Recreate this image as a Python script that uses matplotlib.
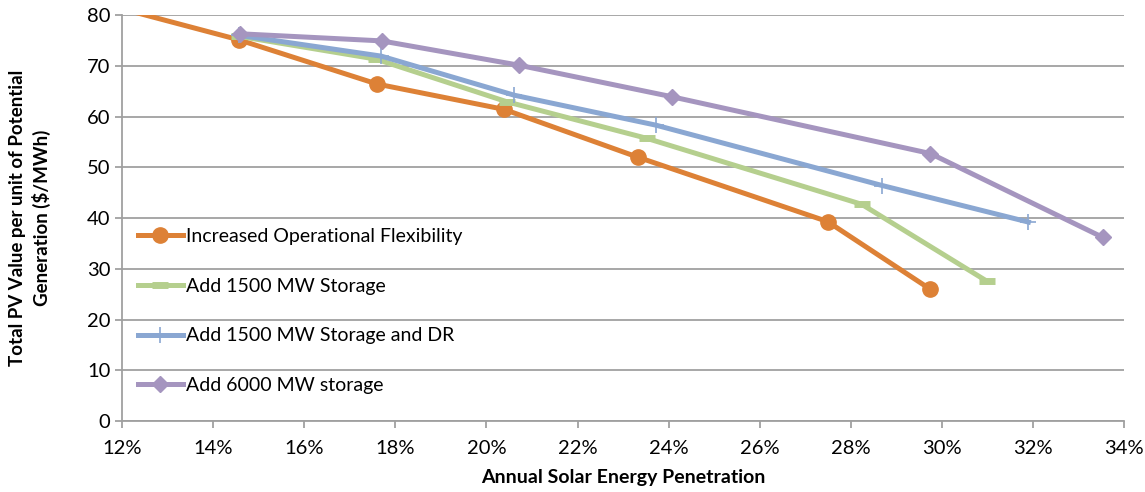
import matplotlib.pyplot as plt
from matplotlib.ticker import FuncFormatter

plt.rcParams['font.family'] = ['Lato', 'DejaVu Sans']

# data (penetration %, $/MWh)
flex_x = [11.5, 14.57, 17.6, 20.39, 23.32, 27.49, 29.74]
flex_y = [82.4, 75.1, 66.4, 61.4, 52.0, 39.3, 26.0]

stor_x = [14.57, 17.58, 20.45, 23.52, 28.24, 30.98]
stor_y = [75.8, 71.3, 62.9, 55.7, 42.7, 27.6]

dr_x = [14.57, 17.69, 20.61, 23.72, 28.69, 31.9]
dr_y = [76.0, 71.9, 64.2, 58.3, 46.4, 39.2]

big_x = [14.59, 17.70, 20.72, 24.07, 29.75, 33.53]
big_y = [76.3, 74.9, 70.1, 63.9, 52.7, 36.2]

labels = ["Increased Operational Flexibility", "Add 1500 MW Storage",
          "Add 1500 MW Storage and DR", "Add 6000 MW storage"]

fig = plt.figure(figsize=(11.45, 4.92), dpi=100)
ax = fig.add_axes([0.1066, 0.1443, 0.8751, 0.8252])

lw = 3.6
ax.plot(flex_x, flex_y, color='#DD8136', lw=lw, marker='o', ms=11, label=labels[0], zorder=3)
ax.plot(stor_x, stor_y, color='#B5CF8E', lw=lw, marker='_', ms=11, mew=5, label=labels[1], zorder=4)
ax.plot(dr_x, dr_y, color='#8AA7D2', lw=lw, marker='+', ms=11, mew=1.2, label=labels[2], zorder=5)
ax.plot(big_x, big_y, color='#A595BF', lw=lw, marker='D', ms=8.5, label=labels[3], zorder=6)

ax.set_xlim(12, 34)
ax.set_ylim(0, 80)
ax.set_xticks(range(12, 35, 2))
ax.set_yticks(range(0, 81, 10))
ax.xaxis.set_major_formatter(FuncFormatter(lambda v, p: f"{v:.0f}%"))

ax.grid(axis='y', color='#A0A0A0', lw=1.3)
ax.set_axisbelow(True)
for s in ['top', 'right']:
    ax.spines[s].set_visible(False)
for s in ['left', 'bottom']:
    ax.spines[s].set_color('#A0A0A0')
    ax.spines[s].set_linewidth(1.3)
ax.tick_params(axis='both', colors='#A0A0A0', labelcolor='black', labelsize=14.5, length=5, width=1.3)
ax.tick_params(axis='x', pad=9)

ax.set_xlabel("Annual Solar Energy Penetration", fontsize=14, fontweight='bold', labelpad=8)
ax.set_ylabel("Total PV Value per unit of Potential\nGeneration ($/MWh)", fontsize=13.5,
              fontweight='bold', labelpad=26, linespacing=1.35)

leg = ax.legend(loc='upper left', bbox_to_anchor=(0.016, 0.475), frameon=False, fontsize=14,
                labelspacing=1.68, handlelength=2.3, handletextpad=0.15, borderaxespad=0,
                borderpad=0)

fig.savefig("out.png", dpi=100)
